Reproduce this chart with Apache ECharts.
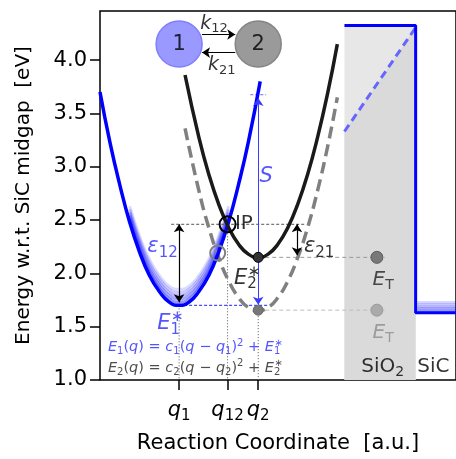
<!DOCTYPE html>
<html><head><meta charset="utf-8">
<script src="https://cdn.jsdelivr.net/npm/echarts@6/dist/echarts.min.js"></script>
<style>html,body{margin:0;padding:0;background:#fff}#c{width:456px;height:459px}</style>
</head><body><div id="c"></div>
<script>
// ---------- values ----------
const blueQ  = [0, 0.125, 0.25, 0.375, 0.5, 0.625, 0.75, 0.875, 1.0, 1.125, 1.25, 1.375, 1.5, 1.625, 1.75, 1.875, 2.025];
const blueE  = [3.70, 3.23, 2.83, 2.48, 2.20, 1.98, 1.83, 1.73, 1.70, 1.73, 1.83, 1.98, 2.20, 2.48, 2.83, 3.23, 3.80];
const bandQ  = [0.375, 0.5, 0.625, 0.75, 0.875, 1.0, 1.125, 1.25, 1.375, 1.5, 1.625];
const bandE  = [2.48, 2.20, 1.98, 1.83, 1.73, 1.70, 1.73, 1.83, 1.98, 2.20, 2.48];
const bandShift = [0.03, 0.06, 0.09, 0.12, 0.15];
const curveQ = [1.075, 1.25, 1.375, 1.5, 1.625, 1.75, 1.875, 2.0, 2.125, 2.25, 2.375, 2.5, 2.625, 2.75, 2.875, 3.0];
const blackE = [3.86, 3.275, 2.93, 2.65, 2.43, 2.275, 2.18, 2.15, 2.18, 2.275, 2.43, 2.65, 2.93, 3.275, 3.68, 4.15];
const greyE  = [3.36, 2.775, 2.43, 2.15, 1.93, 1.775, 1.68, 1.65, 1.68, 1.775, 1.93, 2.15, 2.43, 2.775, 3.18, 3.65];
const yTicks = [1.0, 1.5, 2.0, 2.5, 3.0, 3.5, 4.0];
const xTicks = [1.0, 1.6125, 2.0];
const xTickSub = ['1', '12', '2'];
const q1 = 1.0, q12 = 1.6125, q2 = 2.0;
const E1s = 1.70, E2s = 2.15, E2g = 1.655, Eip = 2.46;
const crossQ = 1.4875, crossE = 2.19;
const oxideQ = [3.09, 3.99];
const oxideTop = 4.325;
const diagE = [3.33, 4.305];
const sicE = 1.63, sicEndQ = 4.5;
const sicShift = [0.02, 0.04, 0.06, 0.08, 0.10];
const trapQ = 3.5;
const sTop = 3.675;
const eps21Q = 2.49;
const stateE = 4.15;
const kE = [4.24, 4.07];
const kQ = [1.29, 1.71];

// ---------- styling / building ----------
const F = 'DejaVu Sans';
const BLUE = '#0000ff';
const TBLUE = '#2b2bff';
function rich(color, base) {
  const s = Math.round(base * 0.7);
  return {
    i: {fontStyle: 'italic', fontSize: base, color: color, fontFamily: F},
    r: {fontSize: base, color: color, fontFamily: F},
    sb: {fontSize: s, color: color, fontFamily: F, padding: [Math.round(base * 0.55), 0, 0, 0]},
    sp: {fontSize: s, color: color, fontFamily: F, padding: [0, 0, Math.round(base * 0.6), 0]},
    so: {fontSize: s, color: color, fontFamily: F, padding: [0, 0, Math.round(base * 0.6), -Math.round(base * 0.42)]}
  };
}
function zip(a, b) { return a.map((v, i) => [v, b[i]]); }
function lineS(data, color, width, type, extra) {
  return Object.assign({type: 'line', data: data, symbol: 'none', smooth: false, silent: true,
    lineStyle: {color: color, width: width, type: type || 'solid'}, z: 3}, extra || {});
}
function txt(q, e, fmt, color, base, align, z) {
  return {type: 'scatter', symbolSize: 1, itemStyle: {color: 'rgba(0,0,0,0)'}, silent: true, z: z || 10,
    data: [[q, e]],
    label: {show: true, position: 'inside', formatter: fmt, align: align || 'center', verticalAlign: 'middle',
      color: color, fontSize: base, fontFamily: F, rich: rich(color, base)}};
}
function arrows(list, color, width, sym, size) {
  return {type: 'lines', coordinateSystem: 'cartesian2d', silent: true, z: 6,
    symbol: sym, symbolSize: size,
    lineStyle: {color: color, width: width, opacity: 1},
    data: list.map(c => ({coords: c}))};
}

const series = [];
// oxide region
series.push(lineS([[oxideQ[0], oxideTop], [oxideQ[1], oxideTop]], 'rgba(0,0,0,0)', 0, 'solid',
  {areaStyle: {color: '#e7e7e7', opacity: 1, origin: 'start'}, z: 1}));
series.push(lineS([[oxideQ[0], diagE[0]], [oxideQ[1], diagE[1]]], 'rgba(0,0,0,0)', 0, 'solid',
  {areaStyle: {color: '#dadada', opacity: 1, origin: 'start'}, z: 1}));
// blue broadening band
bandShift.forEach((d, k) => {
  series.push(lineS(zip(bandQ, bandE.map(v => v + d)), BLUE, 3, 'solid',
    {smooth: true, lineStyle: {color: BLUE, width: 3, opacity: 0.42 - k * 0.07}, z: 2}));
});
sicShift.forEach((d, k) => {
  series.push(lineS([[oxideQ[1] + 0.02, sicE + d], [sicEndQ, sicE + d]], BLUE, 2.5, 'solid',
    {lineStyle: {color: BLUE, width: 2.5, opacity: 0.4 - k * 0.06}, z: 2}));
});
// reference lines
series.push(lineS([[0.9, Eip], [2.6, Eip]], '#555', 1, [3, 2]));
series.push(lineS([[q1, E1s], [q1, 1.0]], '#555', 1, [1, 2]));
series.push(lineS([[q12, Eip], [q12, 1.0]], '#555', 1, [1, 2]));
series.push(lineS([[q2, E2g], [q2, 1.0]], '#555', 1, [1, 2]));
series.push(lineS([[q1, E1s], [2.12, E1s]], '#4a4aff', 1.2, [3, 2]));
series.push(lineS([[q2, E2s], [3.6, E2s]], '#9a9a9a', 1, [4, 3]));
series.push(lineS([[q2, E2g], [3.6, E2g]], '#bdbdbd', 1, [4, 3]));
series.push(lineS([[1.9, sTop], [2.1, sTop]], '#6a6aff', 1, [3, 2]));
// curves
series.push(lineS(zip(curveQ, greyE), '#808080', 3.5, [12, 6], {smooth: true, z: 4}));
series.push(lineS(zip(blueQ, blueE), BLUE, 3.5, 'solid', {smooth: true, z: 4}));
series.push(lineS(zip(curveQ, blackE), '#1a1a1a', 3.5, 'solid', {smooth: true, z: 4}));
series.push(lineS([[oxideQ[0], diagE[0]], [oxideQ[1], diagE[1]]], '#6666ff', 3, [8, 5], {z: 4}));
series.push(lineS([[oxideQ[0], oxideTop], [oxideQ[1], oxideTop], [oxideQ[1], sicE], [sicEndQ, sicE]], BLUE, 3, 'solid', {z: 4}));
// arrows
series.push(arrows([[[q1, Eip], [q1, E1s + 0.03]], [[eps21Q, Eip], [eps21Q, E2s + 0.02]]], '#000', 1.2, ['arrow', 'arrow'], 8));
series.push(arrows([[[q2, E2g + 0.05], [q2, sTop - 0.03]]], '#3a3aff', 1, ['arrow', 'arrow'], 8));
series.push(arrows([[[kQ[0], kE[0]], [kQ[1], kE[0]]], [[kQ[1], kE[1]], [kQ[0], kE[1]]]], '#000', 1.2, ['none', 'arrow'], 8));
// markers
function pt(q, e, size, color, border, bw, z) {
  return {type: 'scatter', data: [[q, e]], symbolSize: size, silent: true, z: z || 7,
    itemStyle: {color: color, borderColor: border, borderWidth: bw, opacity: 1}};
}
series.push(pt(q1, stateE, 46, '#9999ff', '#7f7fff', 1.5, 8));
series.push(pt(q2, stateE, 46, '#9a9a9a', '#858585', 1.5, 8));
series.push(pt(q12, Eip, 16, 'rgba(0,0,0,0)', '#000', 2));
series.push(pt(crossQ, crossE, 15, 'rgba(0,0,0,0)', '#808080', 2));
series.push(pt(q2, E2s, 10, '#333', '#000', 1));
series.push(pt(q2, E2g, 10, '#777', '#666', 1));
series.push(pt(trapQ, E2s, 12, '#787878', '#5a5a5a', 1));
series.push(pt(trapQ, E2g, 12, '#aaaaaa', '#999', 1));
// texts
series.push(txt(q1, stateE, '{r|1}', '#000', 21));
series.push(txt(q2, stateE, '{r|2}', '#000', 21));
series.push(txt(1.44, 4.34, '{i|k}{sb|12}', '#000', 19));
series.push(txt(1.54, 3.95, '{i|k}{sb|21}', '#000', 19));
series.push(txt(1.705, 2.465, '{r|IP}', '#000', 20, 'left'));
series.push(txt(0.79, 2.25, '{i|ε}{sb|12}', TBLUE, 21));
series.push(txt(2.77, 2.25, '{i|ε}{sb|21}', '#000', 21));
series.push(txt(2.1, 2.91, '{i|S}', TBLUE, 21));
series.push(txt(1.86, 1.955, '{i|E}{sb|2}{so|∗}', '#000', 21));
series.push(txt(0.89, 1.525, '{i|E}{sb|1}{so|∗}', TBLUE, 21));
series.push(txt(0.1, 1.304, '{i|E}{sb|1}{r|(}{i|q}{r|) = }{i|c}{sb|1}{r|(}{i|q}{r| − }{i|q}{sb|1}{r|)}{sp|2}{r| + }{i|E}{sb|1}{so|∗}', TBLUE, 14.5, 'left'));
series.push(txt(0.1, 1.112, '{i|E}{sb|2}{r|(}{i|q}{r|) = }{i|c}{sb|2}{r|(}{i|q}{r| − }{i|q}{sb|2}{r|)}{sp|2}{r| + }{i|E}{sb|2}{so|∗}', '#222', 14.5, 'left'));
series.push(txt(3.58, 1.935, '{i|E}{sb|T}', '#222', 20));
series.push(txt(3.58, 1.44, '{i|E}{sb|T}', '#8c8c8c', 20));
series.push(txt(3.575, 1.12, '{r|SiO}{sb|2}', '#000', 20));
series.push(txt(4.215, 1.12, '{r|SiC}', '#000', 20));

const chart = echarts.init(document.getElementById('c'), null, {renderer: 'canvas'});
chart.setOption({
  animation: false,
  backgroundColor: '#fff',
  grid: {left: 100, top: 11, width: 360, height: 372, show: true, borderColor: '#000', borderWidth: 1.5, backgroundColor: 'rgba(0,0,0,0)'},
  xAxis: {type: 'value', min: 0, max: 4.5,
    name: 'Reaction Coordinate  [a.u.]', nameLocation: 'middle', nameGap: 53,
    nameTextStyle: {fontSize: 21, fontFamily: F, color: '#000'},
    axisLine: {show: false}, splitLine: {show: false},
    axisTick: {show: true, length: 10, lineStyle: {color: '#000', width: 1.5}, customValues: xTicks},
    axisLabel: {show: true, customValues: xTicks, margin: 17, fontSize: 21, fontFamily: F, color: '#000',
      formatter: function (v) {
        let k = 0; xTicks.forEach((t, i) => { if (Math.abs(t - v) < 1e-6) k = i; });
        return '{i|q}{sb|' + xTickSub[k] + '}';
      }, rich: rich('#000', 21)}
  },
  yAxis: {type: 'value', min: 1.0, max: 4.46,
    name: 'Energy w.r.t. SiC midgap  [eV]', nameLocation: 'middle', nameGap: 66,
    nameTextStyle: {fontSize: 20, fontFamily: F, color: '#000'},
    axisLine: {show: false}, splitLine: {show: false},
    axisTick: {show: true, length: 10, lineStyle: {color: '#000', width: 1.5}, customValues: yTicks},
    axisLabel: {show: true, customValues: yTicks, margin: 13, fontSize: 21, fontFamily: F, color: '#000',
      formatter: v => v.toFixed(1)}
  },
  series: series
});
</script></body></html>
